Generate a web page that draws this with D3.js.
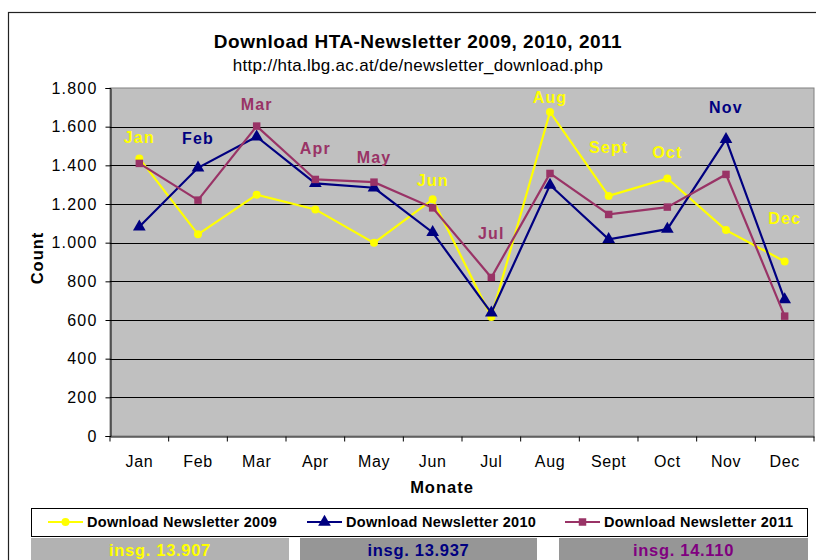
<!DOCTYPE html>
<head>
    <meta charset="utf-8">
    <script src="https://d3js.org/d3.v7.min.js"></script>
    <style>
        body { margin: 0; background: #fff; }
        text { font-family: "Liberation Sans", Arial, sans-serif; }
    </style>
</head>
<body>
    <svg></svg>
    <script>
        // chart data
        var months = ["Jan", "Feb", "Mar", "Apr", "May", "Jun", "Jul", "Aug", "Sept", "Oct", "Nov", "Dec"];
        var seriesNames = ["Download Newsletter 2009", "Download Newsletter 2010", "Download Newsletter 2011"];
        var values2009 = [1436, 1043, 1248, 1172, 999, 1224, 616, 1676, 1242, 1332, 1065, 903];
        var values2010 = [1082, 1387, 1548, 1307, 1284, 1053, 637, 1298, 1017, 1070, 1534, 706];
        var values2011 = [1410, 1220, 1603, 1327, 1313, 1180, 820, 1358, 1146, 1184, 1353, 620];
        var totals = [13907, 13937, 14110];
        var yTicks = [0, 200, 400, 600, 800, 1000, 1200, 1400, 1600, 1800];
        // month labels inside the plot: which series colour, and at what count level
        var labelSeries = [0, 1, 2, 2, 2, 0, 2, 0, 0, 0, 1, 0];
        var labelLevel = [1545, 1541, 1717, 1489, 1443, 1324, 1049, 1750, 1496, 1467, 1703, 1125];

        var colors = ["#ffff00", "#000080", "#993366"];
        var totalColors = ["#ffff00", "#000080", "#800080"];
        var allValues = [values2009, values2010, values2011];

        var de = d3.formatLocale({ decimal: ",", thousands: ".", grouping: [3], currency: ["", "€"] });
        var fmt = de.format(",");

        var width = 816, height = 560;
        var plot = { left: 110, top: 88, right: 814, bottom: 436 };

        var svg = d3.select("svg")
            .attr("width", width)
            .attr("height", height);

        // outer chart frame (runs off the picture to the right and bottom)
        svg.append("rect")
            .attr("x", 8.5).attr("y", 12.5)
            .attr("width", 830).attr("height", 580)
            .attr("fill", "#fff")
            .attr("stroke", "#222")
            .attr("stroke-width", 1.2);

        var x = d3.scaleBand()
            .domain(months)
            .range([plot.left, plot.right]);
        var y = d3.scaleLinear()
            .domain([0, 1800])
            .range([plot.bottom, plot.top]);

        // titles
        svg.append("text")
            .attr("x", 418).attr("y", 48)
            .attr("text-anchor", "middle")
            .style("font-size", "19px").style("font-weight", "bold")
            .style("letter-spacing", "0.5px")
            .text("Download HTA-Newsletter 2009, 2010, 2011");
        svg.append("text")
            .attr("x", 418).attr("y", 71)
            .attr("text-anchor", "middle")
            .style("font-size", "17px")
            .style("letter-spacing", "0.3px")
            .text("http://hta.lbg.ac.at/de/newsletter_download.php");

        // plot background
        svg.append("rect")
            .attr("x", plot.left).attr("y", plot.top)
            .attr("width", plot.right - plot.left).attr("height", plot.bottom - plot.top)
            .attr("fill", "#c0c0c0")
            .attr("stroke", "#808080");

        // gridlines
        svg.append("g")
            .selectAll("line")
            .data(yTicks.slice(1, -1))
            .join("line")
            .attr("x1", plot.left).attr("x2", plot.right)
            .attr("y1", d => Math.round(y(d)) + 0.5).attr("y2", d => Math.round(y(d)) + 0.5)
            .attr("stroke", "#000");

        // y axis
        var yAxis = svg.append("g")
            .attr("transform", "translate(" + (plot.left + 0.5) + ",0)")
            .call(d3.axisLeft(y).tickValues(yTicks).tickFormat(fmt).tickSize(5).tickPadding(8));
        // x axis
        var xAxis = svg.append("g")
            .attr("transform", "translate(0," + (plot.bottom + 0.5) + ")")
            .call(d3.axisBottom(x).tickSize(0).tickPadding(19));
        xAxis.selectAll(".tick")
            .append("line")
            .attr("x1", -x.bandwidth() / 2).attr("x2", -x.bandwidth() / 2)
            .attr("y2", 5).attr("stroke", "#000");
        xAxis.append("line")
            .attr("x1", plot.right).attr("x2", plot.right)
            .attr("y2", 5).attr("stroke", "#000");

        [yAxis, xAxis].forEach(function (a) {
            a.select(".domain").attr("stroke", "#000");
            a.selectAll("text")
                .attr("fill", "#000")
                .style("font-size", "16px")
                .style("font-family", "'Liberation Sans', Arial, sans-serif");
        });
        yAxis.selectAll("text").style("letter-spacing", "1.2px");
        xAxis.selectAll("text").style("letter-spacing", "0.6px");
        yAxis.selectAll(".tick line").attr("stroke", "#000");

        // axis titles
        svg.append("text")
            .attr("x", 442).attr("y", 493)
            .attr("text-anchor", "middle")
            .style("font-size", "16.5px").style("font-weight", "bold")
            .style("letter-spacing", "1px")
            .text("Monate");
        svg.append("text")
            .attr("transform", "translate(43,258) rotate(-90)")
            .attr("text-anchor", "middle")
            .style("font-size", "16.5px").style("font-weight", "bold")
            .style("letter-spacing", "1px")
            .text("Count");

        var cx = d => x(d) + x.bandwidth() / 2;
        var line = d3.line()
            .x((d, i) => cx(months[i]))
            .y(d => y(d));

        var symbols = [d3.symbolCircle, d3.symbolTriangle, d3.symbolSquare];
        var symbolSizes = [50, 70, 56];

        // series lines and markers, drawn 2009 first
        allValues.forEach(function (vals, s) {
            var g = svg.append("g");
            g.append("path")
                .datum(vals)
                .attr("d", line)
                .attr("fill", "none")
                .attr("stroke", colors[s])
                .attr("stroke-width", 2.2);
            g.selectAll("path.m")
                .data(vals)
                .join("path")
                .attr("class", "m")
                .attr("transform", (d, i) => "translate(" + cx(months[i]) + "," + y(d) + ")")
                .attr("d", d3.symbol().type(symbols[s]).size(symbolSizes[s]))
                .attr("fill", colors[s]);
        });

        // month labels in the plot
        svg.append("g")
            .selectAll("text")
            .data(months)
            .join("text")
            .attr("x", d => cx(d))
            .attr("y", (d, i) => y(labelLevel[i]))
            .attr("dy", "0.36em")
            .attr("text-anchor", "middle")
            .attr("fill", (d, i) => colors[labelSeries[i]])
            .style("font-size", "16px").style("font-weight", "bold")
            .style("letter-spacing", "1.2px")
            .text(d => d);

        // legend
        var legend = svg.append("g");
        legend.append("rect")
            .attr("x", 31.5).attr("y", 508.5)
            .attr("width", 776).attr("height", 28)
            .attr("fill", "#fff")
            .attr("stroke", "#000");
        var legendX = [48, 307, 565];
        seriesNames.forEach(function (name, s) {
            var lg = legend.append("g").attr("transform", "translate(" + legendX[s] + ",522)");
            lg.append("line")
                .attr("x1", 0).attr("x2", 35)
                .attr("stroke", colors[s]).attr("stroke-width", 2.2);
            lg.append("path")
                .attr("transform", "translate(17.5,0)")
                .attr("d", d3.symbol().type(symbols[s]).size(symbolSizes[s]))
                .attr("fill", colors[s]);
            lg.append("text")
                .attr("x", 39).attr("dy", "0.36em")
                .style("font-size", "14.5px").style("font-weight", "bold")
                .style("letter-spacing", "0.3px")
                .text(name);
        });

        // total boxes
        var totalBoxes = [[31, 289, "#b2b2b2"], [300, 537, "#969696"], [559, 808, "#969696"]];
        totals.forEach(function (t, s) {
            var b = totalBoxes[s];
            svg.append("rect")
                .attr("x", b[0]).attr("y", 538)
                .attr("width", b[1] - b[0]).attr("height", 30)
                .attr("fill", b[2]);
            svg.append("text")
                .attr("x", (b[0] + b[1]) / 2).attr("y", 555.5)
                .attr("text-anchor", "middle")
                .attr("fill", totalColors[s])
                .style("font-size", "16.5px").style("font-weight", "bold")
                .style("letter-spacing", "0.7px")
                .text("insg. " + fmt(t));
        });
    </script>
</body>
